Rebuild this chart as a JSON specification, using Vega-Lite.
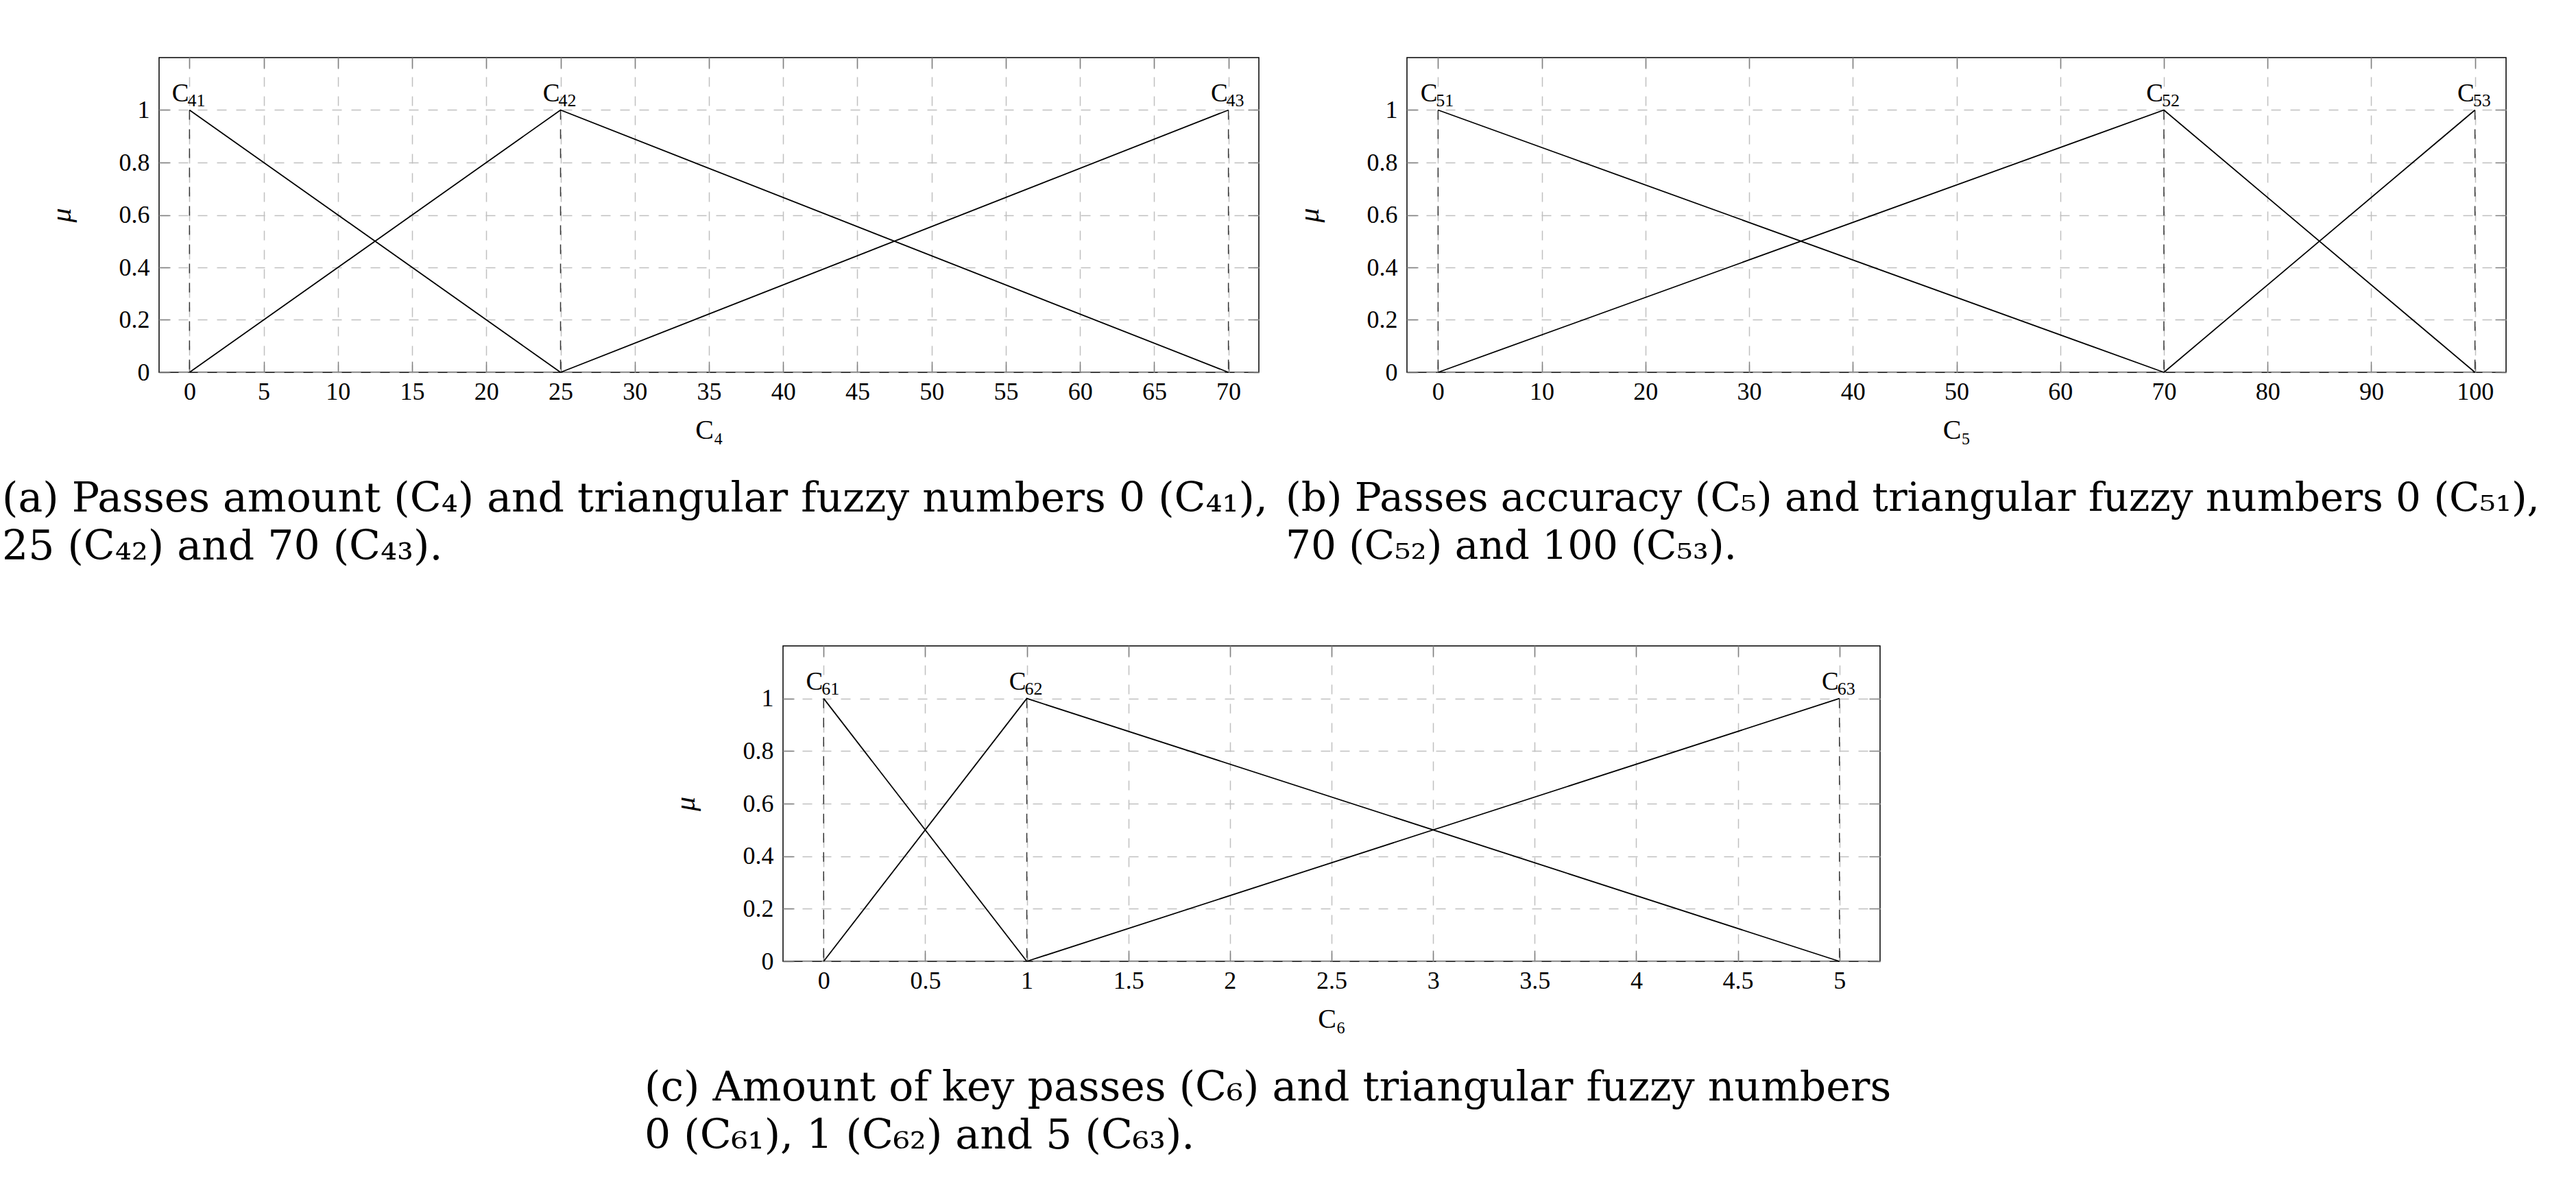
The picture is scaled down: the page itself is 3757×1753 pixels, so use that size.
{
  "$schema": "https://vega.github.io/schema/vega-lite/v6.json",
  "background": "white",
  "padding": {"left": 2, "top": 82, "right": 2, "bottom": 2},
  "bounds": "flush",
  "spacing": 858,
  "config": {
    "font": "Liberation Serif",
    "view": {"stroke": "black", "strokeWidth": 1.5},
    "axis": {
      "grid": true, "gridDash": [14, 14], "gridColor": "#c0c0c0", "gridWidth": 1.5,
      "domain": false, "ticks": true, "tickSize": -16, "tickColor": "#808080", "tickWidth": 1.5,
      "labelFont": "Liberation Serif", "labelFontSize": 36, "labelColor": "black",
      "titleFont": "Liberation Serif", "titleFontSize": 40, "titleFontWeight": "normal", "titleColor": "black",
      "labelFlush": false, "labelOverlap": false
    },
    "axisX": {"labelPadding": 27, "titlePadding": 18},
    "axisY": {"labelPadding": 30, "titleFontStyle": "italic", "titleFontSize": 42},
    "title": {"font": "DejaVu Serif", "fontSize": 60, "fontWeight": "normal", "color": "black", "lineHeight": 70, "baseline": "top", "orient": "bottom", "anchor": "start", "frame": "group", "offset": 52}
  },
  "datasets": {
    "linesA": [
      {"s": "C41", "x": 0, "y": 1}, {"s": "C41", "x": 25, "y": 0},
      {"s": "C42", "x": 0, "y": 0}, {"s": "C42", "x": 25, "y": 1}, {"s": "C42", "x": 70, "y": 0},
      {"s": "C43", "x": 25, "y": 0}, {"s": "C43", "x": 70, "y": 1}
    ],
    "peaksA": [
      {"x": 0, "y": 1, "sub": "41"}, {"x": 25, "y": 1, "sub": "42"}, {"x": 70, "y": 1, "sub": "43"}
    ],
    "linesB": [
      {"s": "C51", "x": 0, "y": 1}, {"s": "C51", "x": 70, "y": 0},
      {"s": "C52", "x": 0, "y": 0}, {"s": "C52", "x": 70, "y": 1}, {"s": "C52", "x": 100, "y": 0},
      {"s": "C53", "x": 70, "y": 0}, {"s": "C53", "x": 100, "y": 1}
    ],
    "peaksB": [
      {"x": 0, "y": 1, "sub": "51"}, {"x": 70, "y": 1, "sub": "52"}, {"x": 100, "y": 1, "sub": "53"}
    ],
    "linesC": [
      {"s": "C61", "x": 0, "y": 1}, {"s": "C61", "x": 1, "y": 0},
      {"s": "C62", "x": 0, "y": 0}, {"s": "C62", "x": 1, "y": 1}, {"s": "C62", "x": 5, "y": 0},
      {"s": "C63", "x": 1, "y": 0}, {"s": "C63", "x": 5, "y": 1}
    ],
    "peaksC": [
      {"x": 0, "y": 1, "sub": "61"}, {"x": 1, "y": 1, "sub": "62"}, {"x": 5, "y": 1, "sub": "63"}
    ],
    "blank": [{"t": ""}]
  },
  "vconcat": [
    {
      "hconcat": [
        {
          "width": 1604, "height": 459,
          "title": {"text": ["(a) Passes amount (C₄) and triangular fuzzy numbers 0 (C₄₁),", "25 (C₄₂) and 70 (C₄₃)."], "dx": -229},
          "resolve": {"axis": {"x": "independent", "y": "independent"}},
          "layer": [
            {"data": {"name": "peaksA"}, "mark": {"type": "rule", "color": "#333333", "strokeWidth": 1.5, "strokeDash": [14, 14]},
             "encoding": {
               "x": {"field": "x", "type": "quantitative", "scale": {"domain": [-2.05, 72.05], "nice": false, "zero": false},
                     "axis": {"values": [0, 5, 10, 15, 20, 25, 30, 35, 40, 45, 50, 55, 60, 65, 70], "title": "C₄", "format": "~r"}},
               "y": {"field": "y", "type": "quantitative", "scale": {"domain": [0, 1.2], "nice": false},
                     "axis": {"values": [0, 0.2, 0.4, 0.6, 0.8, 1], "title": "μ", "format": "~r", "titlePadding": 62}},
               "y2": {"datum": 0}}},
            {"data": {"name": "linesA"}, "mark": {"type": "line", "color": "black", "strokeWidth": 1.8},
             "encoding": {
               "x": {"field": "x", "type": "quantitative", "scale": {"domain": [-2.05, 72.05], "nice": false, "zero": false}, "axis": null},
               "y": {"field": "y", "type": "quantitative", "scale": {"domain": [0, 1.2], "nice": false}, "axis": null},
               "detail": {"field": "s", "type": "nominal"}}},
            {"data": {"name": "peaksA"}, "mark": {"type": "text", "align": "right", "baseline": "alphabetic", "dx": -1, "dy": -13, "fontSize": 37, "color": "black"},
             "encoding": {
               "x": {"field": "x", "type": "quantitative", "scale": {"domain": [-2.05, 72.05], "nice": false, "zero": false},
                     "axis": {"orient": "top", "values": [0, 5, 10, 15, 20, 25, 30, 35, 40, 45, 50, 55, 60, 65, 70], "labels": false, "grid": false, "title": null}},
               "y": {"field": "y", "type": "quantitative", "scale": {"domain": [0, 1.2], "nice": false},
                     "axis": {"orient": "right", "values": [0, 0.2, 0.4, 0.6, 0.8, 1], "labels": false, "grid": false, "title": null}},
               "text": {"value": "C"}}},
            {"data": {"name": "peaksA"}, "mark": {"type": "text", "align": "left", "baseline": "alphabetic", "dx": -3, "dy": -6, "fontSize": 26, "color": "black"},
             "encoding": {
               "x": {"field": "x", "type": "quantitative", "scale": {"domain": [-2.05, 72.05], "nice": false, "zero": false}, "axis": null},
               "y": {"field": "y", "type": "quantitative", "scale": {"domain": [0, 1.2], "nice": false}, "axis": null},
               "text": {"field": "sub"}}}
          ]
        },
        {
          "width": 1603, "height": 459,
          "title": {"text": ["(b) Passes accuracy (C₅) and triangular fuzzy numbers 0 (C₅₁),", "70 (C₅₂) and 100 (C₅₃)."], "dx": -177, "fontSize": 58},
          "resolve": {"axis": {"x": "independent", "y": "independent"}},
          "layer": [
            {"data": {"name": "peaksB"}, "mark": {"type": "rule", "color": "#333333", "strokeWidth": 1.5, "strokeDash": [14, 14]},
             "encoding": {
               "x": {"field": "x", "type": "quantitative", "scale": {"domain": [-3, 103], "nice": false, "zero": false},
                     "axis": {"values": [0, 10, 20, 30, 40, 50, 60, 70, 80, 90, 100], "title": "C₅", "format": "~r"}},
               "y": {"field": "y", "type": "quantitative", "scale": {"domain": [0, 1.2], "nice": false},
                     "axis": {"values": [0, 0.2, 0.4, 0.6, 0.8, 1], "title": "μ", "format": "~r", "titlePadding": 62}},
               "y2": {"datum": 0}}},
            {"data": {"name": "linesB"}, "mark": {"type": "line", "color": "black", "strokeWidth": 1.8},
             "encoding": {
               "x": {"field": "x", "type": "quantitative", "scale": {"domain": [-3, 103], "nice": false, "zero": false}, "axis": null},
               "y": {"field": "y", "type": "quantitative", "scale": {"domain": [0, 1.2], "nice": false}, "axis": null},
               "detail": {"field": "s", "type": "nominal"}}},
            {"data": {"name": "peaksB"}, "mark": {"type": "text", "align": "right", "baseline": "alphabetic", "dx": -1, "dy": -13, "fontSize": 37, "color": "black"},
             "encoding": {
               "x": {"field": "x", "type": "quantitative", "scale": {"domain": [-3, 103], "nice": false, "zero": false},
                     "axis": {"orient": "top", "values": [0, 10, 20, 30, 40, 50, 60, 70, 80, 90, 100], "labels": false, "grid": false, "title": null}},
               "y": {"field": "y", "type": "quantitative", "scale": {"domain": [0, 1.2], "nice": false},
                     "axis": {"orient": "right", "values": [0, 0.2, 0.4, 0.6, 0.8, 1], "labels": false, "grid": false, "title": null}},
               "text": {"value": "C"}}},
            {"data": {"name": "peaksB"}, "mark": {"type": "text", "align": "left", "baseline": "alphabetic", "dx": -3, "dy": -6, "fontSize": 26, "color": "black"},
             "encoding": {
               "x": {"field": "x", "type": "quantitative", "scale": {"domain": [-3, 103], "nice": false, "zero": false}, "axis": null},
               "y": {"field": "y", "type": "quantitative", "scale": {"domain": [0, 1.2], "nice": false}, "axis": null},
               "text": {"field": "sub"}}}
          ]
        }
      ],
      "spacing": 216,
      "bounds": "flush"
    },
    {
      "hconcat": [
        {
          "width": 1, "height": 1, "view": {"stroke": null},
          "data": {"name": "blank"},
          "mark": {"type": "text"},
          "encoding": {"text": {"field": "t"}}
        },
        {
          "width": 1600, "height": 460,
          "title": {"text": ["(c) Amount of key passes (C₆) and triangular fuzzy numbers", "0 (C₆₁), 1 (C₆₂) and 5 (C₆₃)."], "dx": -202},
          "resolve": {"axis": {"x": "independent", "y": "independent"}},
          "layer": [
            {"data": {"name": "peaksC"}, "mark": {"type": "rule", "color": "#333333", "strokeWidth": 1.5, "strokeDash": [14, 14]},
             "encoding": {
               "x": {"field": "x", "type": "quantitative", "scale": {"domain": [-0.2, 5.2], "nice": false, "zero": false},
                     "axis": {"values": [0, 0.5, 1, 1.5, 2, 2.5, 3, 3.5, 4, 4.5, 5], "title": "C₆", "format": "~r"}},
               "y": {"field": "y", "type": "quantitative", "scale": {"domain": [0, 1.2], "nice": false},
                     "axis": {"values": [0, 0.2, 0.4, 0.6, 0.8, 1], "title": "μ", "format": "~r", "titlePadding": 62}},
               "y2": {"datum": 0}}},
            {"data": {"name": "linesC"}, "mark": {"type": "line", "color": "black", "strokeWidth": 1.8},
             "encoding": {
               "x": {"field": "x", "type": "quantitative", "scale": {"domain": [-0.2, 5.2], "nice": false, "zero": false}, "axis": null},
               "y": {"field": "y", "type": "quantitative", "scale": {"domain": [0, 1.2], "nice": false}, "axis": null},
               "detail": {"field": "s", "type": "nominal"}}},
            {"data": {"name": "peaksC"}, "mark": {"type": "text", "align": "right", "baseline": "alphabetic", "dx": -1, "dy": -13, "fontSize": 37, "color": "black"},
             "encoding": {
               "x": {"field": "x", "type": "quantitative", "scale": {"domain": [-0.2, 5.2], "nice": false, "zero": false},
                     "axis": {"orient": "top", "values": [0, 0.5, 1, 1.5, 2, 2.5, 3, 3.5, 4, 4.5, 5], "labels": false, "grid": false, "title": null}},
               "y": {"field": "y", "type": "quantitative", "scale": {"domain": [0, 1.2], "nice": false},
                     "axis": {"orient": "right", "values": [0, 0.2, 0.4, 0.6, 0.8, 1], "labels": false, "grid": false, "title": null}},
               "text": {"value": "C"}}},
            {"data": {"name": "peaksC"}, "mark": {"type": "text", "align": "left", "baseline": "alphabetic", "dx": -3, "dy": -6, "fontSize": 26, "color": "black"},
             "encoding": {
               "x": {"field": "x", "type": "quantitative", "scale": {"domain": [-0.2, 5.2], "nice": false, "zero": false}, "axis": null},
               "y": {"field": "y", "type": "quantitative", "scale": {"domain": [0, 1.2], "nice": false}, "axis": null},
               "text": {"field": "sub"}}}
          ]
        }
      ],
      "spacing": 909,
      "bounds": "flush"
    }
  ]
}
